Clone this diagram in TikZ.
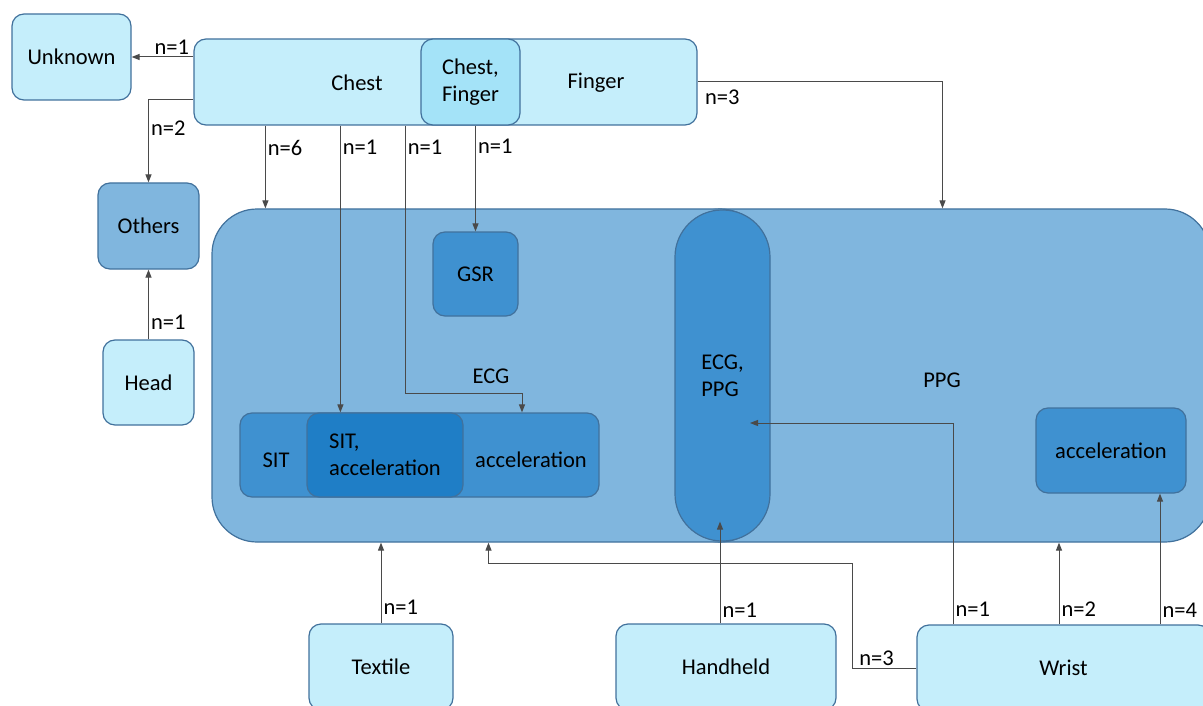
\documentclass[tikz,border=0pt]{standalone}
\usepackage{fontspec}
\setmainfont{Carlito}
\usetikzlibrary{arrows.meta}
\definecolor{boxline}{HTML}{41719C}
\definecolor{boxlight}{HTML}{C5EEFB}
\definecolor{boxmid}{HTML}{A4E3F8}
\definecolor{boxblue}{HTML}{80B6DE}
\definecolor{boxdark}{HTML}{3F91D0}
\definecolor{boxdarker}{HTML}{1F7EC6}
\definecolor{arrline}{HTML}{4A4A4A}
\begin{document}
\begin{tikzpicture}[x=1pt,y=-1pt,
    every node/.style={font=\fontsize{22.5}{27}\selectfont},
    box/.style={draw=boxline, line width=1.2pt, rounded corners=12pt, inner sep=0pt},
    light/.style={box, fill=boxlight},
    bluebox/.style={box, fill=boxblue},
    darkbox/.style={box, fill=boxdark},
    arr/.style={draw=arrline, line width=1pt, -{Triangle[length=8pt,width=6pt]}},
    lbl/.style={inner sep=2pt}]
  \useasboundingbox (0,0) rectangle (1203,706);
  \node[light, minimum width=119pt, minimum height=86pt] (unknown) at (71.5,57) {Unknown};
  \node[light, minimum width=503pt, minimum height=86pt] (chestbar) at (445.5,82) {};
  \node (chestlbl) at (357,83) {Chest};
  \node (fingerlbl) at (596,83) {Finger};
  \node[box, fill=boxmid, minimum width=99pt, minimum height=86pt, align=center] (both) at (470.5,82) {Chest,\\Finger};
  \node[bluebox, minimum width=101pt, minimum height=86pt] (others) at (148.5,226) {Others};
  \node[light, minimum width=91pt, minimum height=85pt] (head) at (148.5,382.5) {Head};
  \node[bluebox, rounded corners=45pt, minimum width=535pt, minimum height=333pt] (ppg) at (942.5,375.5) {};
  \node[bluebox, rounded corners=45pt, minimum width=553pt, minimum height=333pt] (ecg) at (488.5,375.5) {};
  \node[darkbox, rounded corners=47pt, minimum width=95pt, minimum height=331pt, align=left] (ecgppg) at (722.5,375.5) {ECG,\\PPG};
  \node (ecglbl) at (491,376) {ECG};
  \node (ppglbl) at (942,380) {PPG};
  \node[darkbox, minimum width=85pt, minimum height=84pt] (gsr) at (475.5,274) {GSR};
  \node[darkbox, minimum width=359pt, minimum height=84pt] (sitgrp) at (419.5,455) {};
  \node (sitlbl) at (276,460) {SIT};
  \node (acclbl) at (531,460) {acceleration};
  \node[box, fill=boxdarker, minimum width=156pt, minimum height=84pt, align=left] (sitacc) at (385,455) {SIT,\\acceleration};
  \node[darkbox, minimum width=150pt, minimum height=85pt] (accppg) at (1111,450.5) {acceleration};
  \node[light, minimum width=144pt, minimum height=86pt] (textile) at (381,667) {Textile};
  \node[light, minimum width=220pt, minimum height=86pt] (handheld) at (726,667) {Handheld};
  \node[light, minimum width=293pt, minimum height=86pt] (wrist) at (1063.5,668) {Wrist};
  \coordinate (ecgbend) at (522,393);
  \coordinate (wbend) at (852,563);
  \draw[arr] (chestbar.west |- unknown.east) -- node[lbl, above, pos=0.35] {n=1} (unknown.east);
  \draw[arr] ([yshift=-18pt]chestbar.west) -| node[lbl, right, pos=0.67] {n=2} (others.north);
  \draw[arr] ([xshift=72pt]chestbar.south west) -- node[lbl, right, pos=0.27] {n=6} ([xshift=72pt]chestbar.south west |- ecg.north);
  \draw[arr] ([xshift=147pt]chestbar.south west) -- node[lbl, right, pos=0.077] {n=1} ([xshift=147pt]chestbar.south west |- sitacc.north);
  \draw[arr] ([xshift=212pt]chestbar.south west) |- node[lbl, right, pos=0.041] {n=1} (ecgbend) -- (ecgbend |- sitgrp.north);
  \draw[arr] (gsr.north |- both.south) -- node[lbl, right, pos=0.2] {n=1} (gsr.north);
  \draw[arr] (chestbar.east) -| node[lbl, anchor=north west, pos=0.01, yshift=-5pt] {n=3} (ppg.north);
  \draw[arr] (head.north) -- node[lbl, right, pos=0.25] {n=1} (others.south);
  \draw[arr] (textile.north) -- node[lbl, right, pos=0.2] {n=1} (textile.north |- ecg.south);
  \draw[arr] ([xshift=-6pt]handheld.north) -- node[lbl, right, pos=0.13] {n=1} ([xshift=-2.5pt,yshift=20pt]ecgppg.south);
  \draw[arr] (wrist.west) -| node[lbl, above, pos=0.31] {n=3} (wbend) -| (ecg.south);
  \draw[arr] ([xshift=-110.5pt]wrist.north) |- node[lbl, right, pos=0.037] {n=1} ([xshift=27.5pt,yshift=-47.5pt]ecgppg.center);
  \draw[arr] ([xshift=-4.5pt]wrist.north) -- node[lbl, right, pos=0.18] {n=2} ([xshift=-4.5pt]wrist.north |- ppg.south);
  \draw[arr] ([xshift=49pt]accppg.south |- wrist.north) -- node[lbl, right, pos=0.11] {n=4} ([xshift=49pt]accppg.south);
\end{tikzpicture}
\end{document}
